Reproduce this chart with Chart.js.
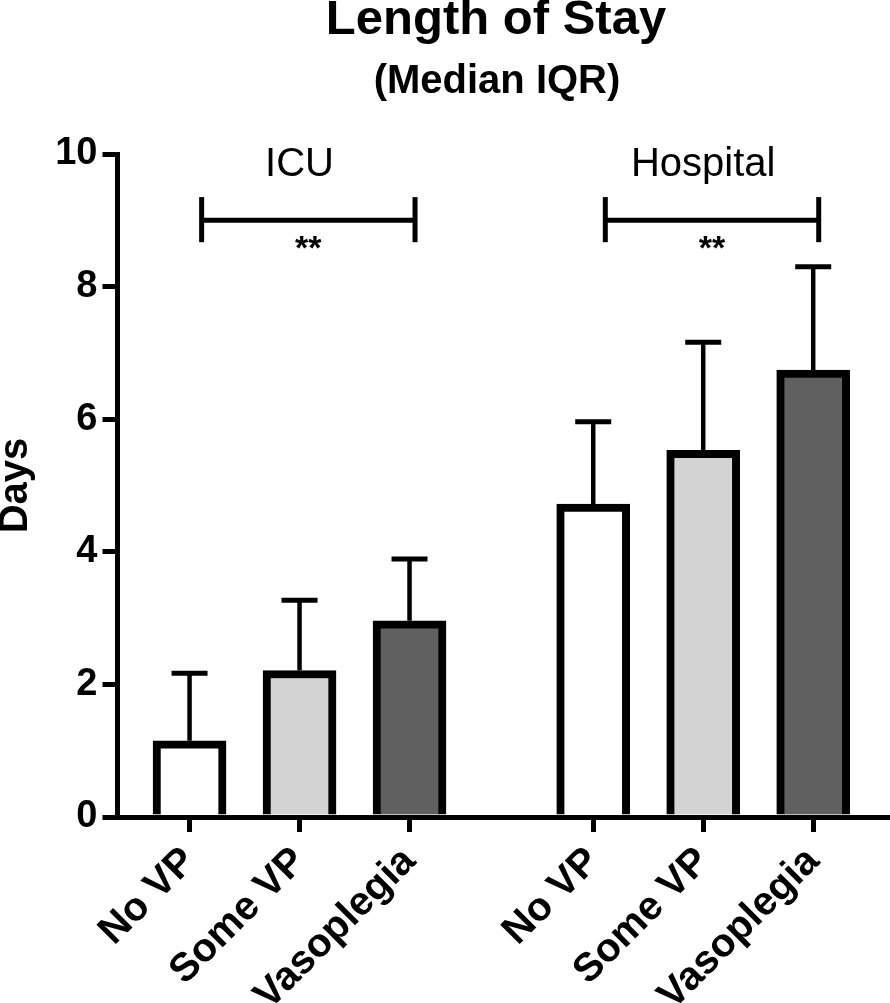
<!DOCTYPE html>
<html>
<head>
<meta charset="utf-8">
<script src="https://cdn.jsdelivr.net/npm/chart.js@4.4.1/dist/chart.umd.min.js"></script>
<style>
  html, body { margin: 0; padding: 0; background: #ffffff; }
  #wrap { width: 890px; height: 1003px; position: relative; overflow: hidden; }
</style>
</head>
<body>
<div id="wrap"><canvas id="c" width="890" height="1003"></canvas></div>
<script>
// ---- data ----
const groups = ['ICU', 'Hospital'];
const categories = ['No VP', 'Some VP', 'Vasoplegia'];
const icuMedian = [1.15, 2.21, 2.96];
const icuUpperIQR = [2.17, 3.27, 3.89];
const hospitalMedian = [4.72, 5.53, 6.74];
const hospitalUpperIQR = [5.96, 7.16, 8.30];
const significance = ['**', '**'];
const yTickValues = [0, 2, 4, 6, 8, 10];
const titleText = 'Length of Stay';
const subtitleText = '(Median IQR)';
const yAxisTitle = 'Days';

// ---- layout constants ----
const GROUP_GAP = 0.67;       // extra empty space between groups, in bar slots
const BAR_COLORS = ['#ffffff', '#d3d3d3', '#606060'];
const FONT = "'Liberation Sans', Arial, Helvetica, sans-serif";

const medians = [icuMedian, hospitalMedian];
const uppers = [icuUpperIQR, hospitalUpperIQR];

const points = [], bg = [], upper = [], tickPos = [], tickLabels = [];
groups.forEach((g, gi) => {
  categories.forEach((c, ci) => {
    const xv = gi * (categories.length + GROUP_GAP) + ci;
    points.push({ x: xv, y: medians[gi][ci] });
    bg.push(BAR_COLORS[ci]);
    upper.push(uppers[gi][ci]);
    tickPos.push(xv);
    tickLabels.push(c);
  });
});

const annotations = {
  id: 'annotations',
  afterDatasetsDraw(chart) {
    const ctx = chart.ctx;
    const xs = chart.scales.x, ys = chart.scales.y;
    ctx.save();
    ctx.strokeStyle = '#000';
    ctx.fillStyle = '#000';
    // error whiskers (upper IQR)
    points.forEach((p, i) => {
      const x = xs.getPixelForValue(p.x);
      const y0 = ys.getPixelForValue(p.y);
      const y1 = ys.getPixelForValue(upper[i]);
      ctx.lineWidth = 4.5;
      ctx.beginPath(); ctx.moveTo(x, y0); ctx.lineTo(x, y1); ctx.stroke();
      ctx.lineWidth = 5;
      ctx.beginPath(); ctx.moveTo(x - 18, y1); ctx.lineTo(x + 18, y1); ctx.stroke();
    });
    // group labels, brackets, significance
    groups.forEach((g, gi) => {
      const base = gi * (categories.length + GROUP_GAP);
      const xl = xs.getPixelForValue(base + 0.11);
      const xr = xs.getPixelForValue(base + categories.length - 1 + 0.05);
      const xm = xs.getPixelForValue(base + (categories.length - 1) / 2);
      const yb = ys.getPixelForValue(9.0);
      const yt = ys.getPixelForValue(9.35);
      const ybt = ys.getPixelForValue(8.67);
      ctx.lineWidth = 5;
      ctx.beginPath(); ctx.moveTo(xl, yb); ctx.lineTo(xr, yb); ctx.stroke();
      ctx.beginPath(); ctx.moveTo(xl, yt); ctx.lineTo(xl, ybt); ctx.stroke();
      ctx.beginPath(); ctx.moveTo(xr, yt); ctx.lineTo(xr, ybt); ctx.stroke();
      ctx.textAlign = 'center';
      ctx.textBaseline = 'alphabetic';
      ctx.font = '40px ' + FONT;
      ctx.fillText(g, xm, yb - 44);
      ctx.font = 'bold 34px ' + FONT;
      ctx.fillText(significance[gi], (xl + xr) / 2, yb + 39);
    });
    // titles
    ctx.textAlign = 'center';
    ctx.textBaseline = 'alphabetic';
    ctx.font = 'bold 49px ' + FONT;
    ctx.fillText(titleText, 496, 34);
    ctx.font = 'bold 40px ' + FONT;
    ctx.fillText(subtitleText, 497, 93);
    ctx.restore();
  }
};

new Chart(document.getElementById('c'), {
  type: 'bar',
  data: {
    datasets: [{
      data: points,
      backgroundColor: bg,
      borderColor: '#000',
      borderWidth: 8,
      borderSkipped: 'start',
      barThickness: 73
    }]
  },
  options: {
    responsive: false,
    animation: false,
    devicePixelRatio: 1,
    layout: { padding: { top: 154, right: 2, left: 0, bottom: 0 } },
    plugins: { legend: { display: false }, tooltip: { enabled: false }, title: { display: false } },
    scales: {
      x: {
        type: 'linear',
        offset: false,
        min: -0.655,
        max: 6.35,
        afterBuildTicks(scale) { scale.ticks = tickPos.map(v => ({ value: v })); },
        afterFit(scale) { scale.height = 186; },
        border: { display: true, color: '#000', width: 5 },
        grid: { offset: false, drawOnChartArea: false, drawTicks: true, tickLength: 15, tickWidth: 5, tickColor: '#000', color: '#000', lineWidth: 5 },
        ticks: {
          autoSkip: false,
          maxRotation: 45, minRotation: 45,
          padding: 6,
          color: '#000',
          font: { family: FONT, size: 40, weight: 'bold' },
          callback: (v, i) => tickLabels[i]
        }
      },
      y: {
        min: 0, max: 10,
        afterBuildTicks(scale) { scale.ticks = yTickValues.map(v => ({ value: v })); },
        afterFit(scale) { scale.width = 117.5; },
        border: { display: true, color: '#000', width: 5 },
        grid: { drawOnChartArea: false, drawTicks: true, tickLength: 15, tickWidth: 5, tickColor: '#000', color: '#000', lineWidth: 5 },
        ticks: {
          padding: 5,
          color: '#000',
          font: { family: FONT, size: 38, weight: 'bold' }
        },
        title: {
          display: true,
          text: yAxisTitle,
          color: '#000',
          font: { family: FONT, size: 40, weight: 'bold', lineHeight: 0.8 },
          padding: { top: 0, bottom: 0 }
        }
      }
    }
  },
  plugins: [annotations]
});
</script>
</body>
</html>
